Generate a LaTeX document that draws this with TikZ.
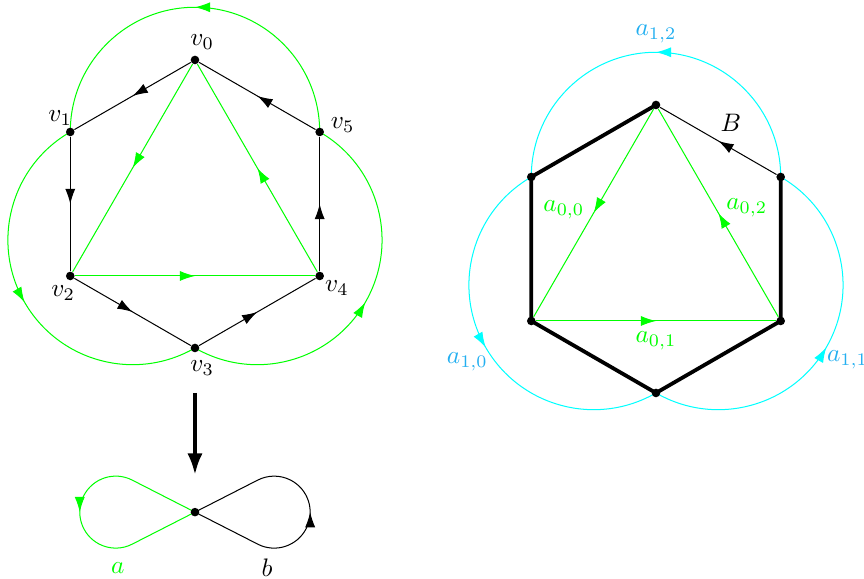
\documentclass[tikz,border=0pt]{standalone}
\usepackage{amsmath}
\usepackage{tikz}
\usetikzlibrary{arrows.meta,decorations.markings,calc,backgrounds}
\definecolor{loopgreen}{RGB}{0,255,0}
\definecolor{loopcyan}{RGB}{0,255,255}
\definecolor{labelblue}{RGB}{35,175,240}
\tikzset{
  dot/.style={circle, fill=black, inner sep=0pt, minimum size=3.4pt},
  midarrow/.style={
    postaction={decorate},
    decoration={markings, mark=at position 0.5 with {\arrow{Latex[length=6pt,width=4pt]}}}
  },
  thickedge/.style={line width=1.5pt},
  bigarrow/.style={-{Latex[length=8.5pt,width=6pt]}, line width=1.5pt},
  lbl/.style={inner sep=1pt}
}

\begin{document}
\begin{tikzpicture}
  \useasboundingbox (-2.708,-5.208) rectangle (9.292,2.833);

  \node[dot] (v0) at (90:2) {};
  \node[dot] (v1) at (150:2) {};
  \node[dot] (v2) at (210:2) {};
  \node[dot] (v3) at (270:2) {};
  \node[dot] (v4) at (330:2) {};
  \node[dot] (v5) at (30:2) {};
  \node[lbl] (l0) at ($(v0)+(0.1,0.25)$) {$v_0$};
  \node[lbl] (l1) at ($(v1)+(-0.14,0.19)$) {$v_1$};
  \node[lbl] (l2) at ($(v2)+(-0.1,-0.24)$) {$v_2$};
  \node[lbl] (l3) at ($(v3)+(0.1,-0.28)$) {$v_3$};
  \node[lbl] (l4) at ($(v4)+(0.24,-0.17)$) {$v_4$};
  \node[lbl] (l5) at ($(v5)+(0.32,0.1)$) {$v_5$};

  \coordinate (rc) at (6.403,-0.625);
  \node[dot] (w0) at ($(rc)+(90:2)$) {};
  \node[dot] (w1) at ($(rc)+(150:2)$) {};
  \node[dot] (w2) at ($(rc)+(210:2)$) {};
  \node[dot] (w3) at ($(rc)+(270:2)$) {};
  \node[dot] (w4) at ($(rc)+(330:2)$) {};
  \node[dot] (w5) at ($(rc)+(30:2)$) {};
  \node[lbl] (lB) at ($(rc)+(1.04,1.75)$) {$B$};
  \node[lbl, text=loopgreen] (a00) at ($(rc)+(-1.28,0.54)$) {$a_{0,0}$};
  \node[lbl, text=loopgreen] (a01) at ($(rc)+(0,-1.28)$) {$a_{0,1}$};
  \node[lbl, text=loopgreen] (a02) at ($(rc)+(1.26,0.57)$) {$a_{0,2}$};
  \node[lbl, text=labelblue] (a10) at ($(rc)+(-2.62,-1.57)$) {$a_{1,0}$};
  \node[lbl, text=labelblue] (a11) at ($(rc)+(2.66,-1.54)$) {$a_{1,1}$};
  \node[lbl, text=labelblue] (a12) at ($(rc)+(0,2.99)$) {$a_{1,2}$};

  \node[dot] (c) at (0,-4.28) {};
  \coordinate (arrtop) at (0,-2.625);
  \coordinate (arrtip) at (0,-3.764);
  \node[lbl, text=loopgreen] (la) at (-1.07,-5.05) {$a$};
  \node[lbl] (lb) at (1.0,-5.05) {$b$};

  \begin{scope}[on background layer]
    \draw[midarrow] (v0) -- (v1);
    \draw[midarrow] (v1) -- (v2);
    \draw[midarrow] (v2) -- (v3);
    \draw[midarrow] (v3) -- (v4);
    \draw[midarrow] (v4) -- (v5);
    \draw[midarrow] (v5) -- (v0);
    \draw[loopgreen, midarrow] (v0) -- (v2);
    \draw[loopgreen, midarrow] (v2) -- (v4);
    \draw[loopgreen, midarrow] (v4) -- (v0);
    \draw[loopgreen, midarrow] (v5.center) arc[start angle=0, end angle=180, radius=1.732];
    \draw[loopgreen, midarrow] (v1.center) arc[start angle=120, end angle=300, radius=1.732];
    \draw[loopgreen, midarrow] (v3.center) arc[start angle=240, end angle=420, radius=1.732];

    \draw[thickedge] (w0.center) -- (w1.center) -- (w2.center) -- (w3.center) -- (w4.center) -- (w5.center);
    \draw[midarrow] (w5) -- (w0);
    \draw[loopgreen, midarrow] (w0) -- (w2);
    \draw[loopgreen, midarrow] (w2) -- (w4);
    \draw[loopgreen, midarrow] (w4) -- (w0);
    \draw[loopcyan, midarrow] (w5.center) arc[start angle=0, end angle=180, radius=1.732];
    \draw[loopcyan, midarrow] (w1.center) arc[start angle=120, end angle=300, radius=1.732];
    \draw[loopcyan, midarrow] (w3.center) arc[start angle=240, end angle=420, radius=1.732];

    \draw[bigarrow] (arrtop) -- (arrtip);
    \draw[loopgreen, midarrow] (c.center) -- ++(-0.873,0.4455) arc[start angle=63, end angle=297, radius=0.5] -- (c.center);
    \draw[midarrow] (c.center) -- ++(0.873,-0.4455) arc[start angle=-117, end angle=117, radius=0.5] -- (c.center);
  \end{scope}
\end{tikzpicture}
\end{document}
